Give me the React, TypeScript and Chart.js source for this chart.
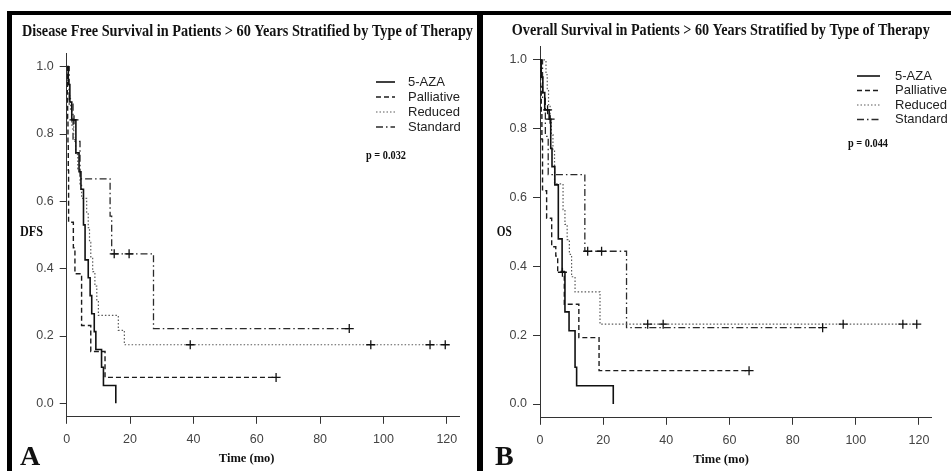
import React, { useEffect, useRef } from "react";
import { Chart, registerables } from "chart.js";
Chart.register(...registerables);

// ---------- shared axis ticks & group names ----------
const xTicks = [0, 20, 40, 60, 80, 100, 120];
const yTicks = [0, 0.2, 0.4, 0.6, 0.8, 1.0];
const groups = ["5-AZA", "Palliative", "Reduced", "Standard"];

// ---------- Panel A: Disease free survival ----------
const dfsAzaT = [0, 0.5, 1.0, 1.6, 2.9, 3.9, 4.5, 5.3, 5.8, 6.8, 7.4, 7.9, 8.7, 9.2, 11.0, 11.6, 15.5];
const dfsAzaS = [1.0, 0.947, 0.895, 0.842, 0.744, 0.688, 0.636, 0.53, 0.426, 0.373, 0.32, 0.266, 0.213, 0.16, 0.107, 0.053, 0.0];
const dfsAzaCensT = [2.3];
const dfsAzaCensS = [0.842];

const dfsPalT = [0, 0.2, 0.3, 0.4, 0.5, 0.6, 2.1, 2.6, 4.7, 7.6, 12.1, 66.1];
const dfsPalS = [1.0, 0.923, 0.846, 0.769, 0.692, 0.538, 0.462, 0.385, 0.231, 0.154, 0.077, 0.077];
const dfsPalCensT = [66.1];
const dfsPalCensS = [0.077];

const dfsRedT = [0, 0.4, 0.8, 1.2, 1.6, 2.2, 2.8, 3.5, 4.2, 4.7, 6.3, 6.8, 7.2, 7.6, 8.2, 8.9, 9.5, 10.0, 16.3, 18.2, 119.5];
const dfsRedS = [1.0, 0.957, 0.913, 0.87, 0.826, 0.783, 0.739, 0.696, 0.652, 0.609, 0.565, 0.522, 0.478, 0.435, 0.391, 0.348, 0.304, 0.261, 0.217, 0.174, 0.174];
const dfsRedCensT = [39, 96, 114.7, 119.5];
const dfsRedCensS = [0.174, 0.174, 0.174, 0.174];

const dfsStdT = [0, 0.8, 2.0, 4.2, 13.7, 14.2, 27.4, 89.2];
const dfsStdS = [1.0, 0.889, 0.778, 0.667, 0.556, 0.444, 0.222, 0.222];
const dfsStdCensT = [15.0, 19.7, 89.2];
const dfsStdCensS = [0.444, 0.444, 0.222];

// ---------- Panel B: Overall survival ----------
const osAzaT = [0, 0.4, 0.9, 1.5, 2.9, 3.4, 3.8, 4.7, 5.8, 7.0, 7.9, 9.2, 11.1, 11.6, 23.2];
const osAzaS = [1.0, 0.95, 0.905, 0.855, 0.828, 0.743, 0.69, 0.637, 0.48, 0.383, 0.268, 0.213, 0.107, 0.053, 0.0];
const osAzaCensT = [2.4, 3.2, 7.1];
const osAzaCensS = [0.855, 0.828, 0.383];

const osPalT = [0, 0.2, 0.4, 0.6, 0.8, 2.1, 3.7, 5.0, 5.6, 7.7, 12.3, 18.7, 66.2];
const osPalS = [1.0, 0.923, 0.846, 0.769, 0.62, 0.54, 0.457, 0.43, 0.385, 0.29, 0.193, 0.097, 0.097];
const osPalCensT = [66.2];
const osPalCensS = [0.097];

const osRedT = [0, 1.9, 2.3, 2.7, 3.2, 3.6, 4.1, 4.6, 7.3, 7.9, 8.6, 9.3, 10.0, 11.1, 19.0, 119.3];
const osRedS = [1.0, 0.957, 0.913, 0.87, 0.826, 0.783, 0.739, 0.64, 0.565, 0.522, 0.478, 0.435, 0.37, 0.326, 0.232, 0.232];
const osRedCensT = [34.1, 39, 96, 114.9, 119.3];
const osRedCensS = [0.232, 0.232, 0.232, 0.232, 0.232];

const osStdT = [0, 0.8, 1.7, 2.6, 14.2, 27.4, 89.5];
const osStdS = [1.0, 0.889, 0.778, 0.667, 0.444, 0.222, 0.222];
const osStdCensT = [15.1, 19.5, 89.5];
const osStdCensS = [0.444, 0.444, 0.222];

// ---------- styles ----------
const STYLES = [
  { color: "#111111", width: 1.6, dash: [] as number[] },
  { color: "#1c1c1c", width: 1.4, dash: [5, 3] },
  { color: "#5a5a5a", width: 1.2, dash: [1.5, 2] },
  { color: "#2a2a2a", width: 1.3, dash: [7, 3, 1.5, 3] },
];

const SERIF = "'Liberation Serif', 'Times New Roman', serif";
const SANS = "'Liberation Sans', Arial, sans-serif";

const pts = (t: number[], s: number[]) => t.map((x, i) => ({ x, y: s[i] }));

const overlayPlugin = {
  id: "overlay",
  afterDraw(chart: any, _args: any, opts: any) {
    const ctx = chart.ctx as CanvasRenderingContext2D;
    ctx.save();
    ctx.textBaseline = "middle";
    for (const t of opts.texts || []) {
      ctx.fillStyle = t.color || "#111";
      ctx.font = t.font;
      ctx.textAlign = t.align || "left";
      if (t.maxWidth) ctx.fillText(t.text, t.x, t.y, t.maxWidth);
      else ctx.fillText(t.text, t.x, t.y);
    }
    const lg = opts.legend;
    if (lg) {
      groups.forEach((g, i) => {
        const y = lg.y + i * lg.dy;
        const st = STYLES[i];
        ctx.beginPath();
        ctx.setLineDash(st.dash);
        ctx.strokeStyle = st.color;
        ctx.lineWidth = st.width;
        ctx.moveTo(lg.x1, y);
        ctx.lineTo(lg.x2, y);
        ctx.stroke();
        ctx.setLineDash([]);
        ctx.fillStyle = "#222";
        ctx.font = "13px " + SANS;
        ctx.textAlign = "left";
        ctx.fillText(g, lg.tx, y);
      });
    }
    ctx.restore();
  },
};

type PanelProps = {
  lines: { t: number[]; s: number[] }[];
  cens: { t: number[]; s: number[] }[];
  width: number;
  height: number;
  area: { left: number; right: number; top: number; bottom: number };
  texts: any[];
  legend: any;
};

function Panel(p: PanelProps) {
  const ref = useRef<HTMLCanvasElement | null>(null);
  useEffect(() => {
    if (!ref.current) return;
    const datasets: any[] = [];
    p.lines.forEach((l, i) => {
      const st = STYLES[i];
      datasets.push({
        label: groups[i],
        data: pts(l.t, l.s),
        stepped: true,
        borderColor: st.color,
        borderWidth: st.width,
        borderDash: st.dash,
        pointRadius: 0,
        fill: false,
        order: 2,
      });
    });
    p.cens.forEach((c, i) => {
      datasets.push({
        label: groups[i] + " censored",
        data: pts(c.t, c.s),
        showLine: false,
        pointStyle: "cross",
        pointRadius: 4.5,
        pointBorderWidth: 1.3,
        pointBorderColor: "#111",
        borderColor: "#111",
        order: 1,
      });
    });
    const axisCommon = {
      grid: {
        display: true,
        drawOnChartArea: false,
        drawTicks: true,
        tickLength: 7,
        tickColor: "#333",
        tickWidth: 1,
      },
      border: { display: true, color: "#333", width: 1 },
    };
    const chart = new Chart(ref.current, {
      type: "line",
      data: { datasets },
      options: {
        responsive: false,
        animation: false,
        devicePixelRatio: 1,
        layout: {
          padding: { left: 0, top: p.area.top, right: p.width - p.area.right, bottom: 0 },
        },
        plugins: {
          legend: { display: false },
          tooltip: { enabled: false },
          title: { display: false },
          overlay: { texts: p.texts, legend: p.legend },
        } as any,
        scales: {
          x: {
            type: "linear",
            min: 0,
            max: 124,
            ...axisCommon,
            afterFit: (s: any) => {
              s.height = p.height - p.area.bottom;
            },
            afterBuildTicks: (s: any) => {
              s.ticks = xTicks.map((v) => ({ value: v }));
            },
            ticks: {
              color: "#444",
              font: { family: SANS, size: 12.5 },
              padding: 8,
              maxRotation: 0,
              callback: (v: any) => String(v),
            },
          },
          y: {
            type: "linear",
            min: -0.04,
            max: 1.04,
            ...axisCommon,
            afterFit: (s: any) => {
              s.width = p.area.left;
            },
            afterBuildTicks: (s: any) => {
              s.ticks = yTicks.map((v) => ({ value: v }));
            },
            ticks: {
              color: "#444",
              font: { family: SANS, size: 12.5 },
              padding: 6,
              callback: (v: any) => Number(v).toFixed(1),
            },
          },
        },
      } as any,
      plugins: [overlayPlugin as any],
    });
    return () => chart.destroy();
  }, []);
  return <canvas ref={ref} width={p.width} height={p.height} style={{ display: "block", width: p.width, height: p.height }} />;
}

export default function App() {
  const W = 951;
  const H = 471;
  return (
    <div style={{ position: "fixed", left: 0, top: 0, width: W, height: H, background: "#fff", overflow: "hidden" }}>
      <div style={{ position: "absolute", left: 0, top: 0 }}>
        <Panel
          width={476}
          height={471}
          area={{ left: 66.7, right: 459.5, top: 53.2, bottom: 416.8 }}
          lines={[
            { t: dfsAzaT, s: dfsAzaS },
            { t: dfsPalT, s: dfsPalS },
            { t: dfsRedT, s: dfsRedS },
            { t: dfsStdT, s: dfsStdS },
          ]}
          cens={[
            { t: dfsAzaCensT, s: dfsAzaCensS },
            { t: dfsPalCensT, s: dfsPalCensS },
            { t: dfsRedCensT, s: dfsRedCensS },
            { t: dfsStdCensT, s: dfsStdCensS },
          ]}
          texts={[
            { text: "Disease Free Survival in Patients > 60 Years Stratified by Type of Therapy", x: 247.5, y: 31.5, align: "center", font: "bold 16px " + SERIF, maxWidth: 451 },
            { text: "DFS", x: 20, y: 232, font: "bold 15px " + SERIF, maxWidth: 23 },
            { text: "Time (mo)", x: 246.7, y: 459, align: "center", font: "bold 12.5px " + SERIF, maxWidth: 57 },
            { text: "A", x: 20, y: 458, font: "bold 28px " + SERIF },
            { text: "p = 0.032", x: 366, y: 156, font: "bold 13px " + SERIF, maxWidth: 40 },
          ]}
          legend={{ x1: 376, x2: 395, tx: 408, y: 82, dy: 15 }}
        />
      </div>
      <div style={{ position: "absolute", left: 476, top: 0 }}>
        <Panel
          width={475}
          height={471}
          area={{ left: 64, right: 455.6, top: 46.2, bottom: 417.8 }}
          lines={[
            { t: osAzaT, s: osAzaS },
            { t: osPalT, s: osPalS },
            { t: osRedT, s: osRedS },
            { t: osStdT, s: osStdS },
          ]}
          cens={[
            { t: osAzaCensT, s: osAzaCensS },
            { t: osPalCensT, s: osPalCensS },
            { t: osRedCensT, s: osRedCensS },
            { t: osStdCensT, s: osStdCensS },
          ]}
          texts={[
            { text: "Overall Survival in Patients > 60 Years Stratified by Type of Therapy", x: 244.8, y: 31, align: "center", font: "bold 16px " + SERIF, maxWidth: 418 },
            { text: "OS", x: 20.7, y: 232, font: "bold 15px " + SERIF, maxWidth: 15 },
            { text: "Time (mo)", x: 245, y: 460, align: "center", font: "bold 12.5px " + SERIF, maxWidth: 56 },
            { text: "B", x: 19, y: 458, font: "bold 28px " + SERIF },
            { text: "p = 0.044", x: 372, y: 144, font: "bold 13px " + SERIF, maxWidth: 40 },
          ]}
          legend={{ x1: 381, x2: 404, tx: 419, y: 76, dy: 14.5 }}
        />
      </div>
      {/* frame lines */}
      <div style={{ position: "absolute", left: 7, top: 11, width: W - 7, height: 4, background: "#000" }} />
      <div style={{ position: "absolute", left: 7, top: 11, width: 5, height: H - 11, background: "#000" }} />
      <div style={{ position: "absolute", left: 477, top: 11, width: 6, height: H - 11, background: "#000" }} />
    </div>
  );
}
